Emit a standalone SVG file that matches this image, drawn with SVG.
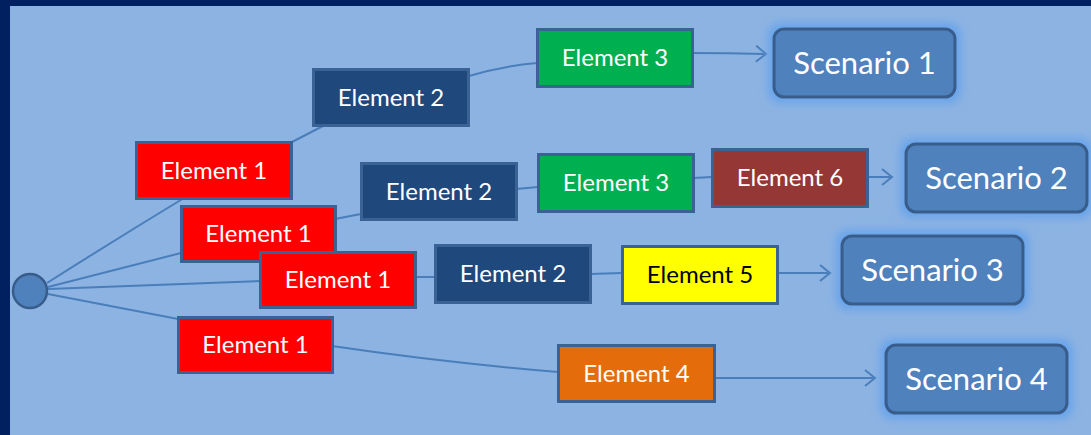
<svg xmlns="http://www.w3.org/2000/svg" width="1091" height="435" viewBox="0 0 1091 435">
  <style>
    .el { stroke: #3B6294; stroke-width: 3; }
    .sc { fill: #4F81BD; stroke: #385D8A; stroke-width: 3; }
    .t { font-family: Lato, "Open Sans", sans-serif; font-size: 24px; fill: #FFFFFF; text-anchor: middle; }
    .ts { font-family: Lato, "Open Sans", sans-serif; font-size: 31px; fill: #FFFFFF; text-anchor: middle; }
    .link { fill: none; stroke: #4A7EBB; stroke-width: 2; }
  </style>
  <defs>
    <marker id="arrow" markerUnits="userSpaceOnUse" markerWidth="14" markerHeight="20" refX="11" refY="9" orient="auto">
      <path d="M1,1 L11,9 L1,17" fill="none" stroke="#4A7EBB" stroke-width="2"/>
    </marker>
    <filter id="glow" x="-25%" y="-50%" width="150%" height="200%">
      <feMorphology in="SourceAlpha" operator="dilate" radius="4" result="d"/>
      <feGaussianBlur in="d" stdDeviation="5" result="b"/>
      <feFlood flood-color="#64A2EC" flood-opacity="1"/>
      <feComposite in2="b" operator="in" result="g"/>
      <feMerge>
        <feMergeNode in="g"/>
        <feMergeNode in="SourceGraphic"/>
      </feMerge>
    </filter>
  </defs>

  <!-- frame and canvas -->
  <rect x="0" y="0" width="1091" height="435" fill="#002060"/>
  <rect x="10" y="6" width="1081" height="429" fill="#8DB3E2"/>

  <!-- connectors -->
  <g id="connectors">
    <path class="link" d="M47,283 Q118,238 184,198"/>
    <path class="link" d="M292,142 L323,126"/>
    <path class="link" d="M469,76 Q502,66 537,63"/>
    <path class="link" d="M692,53 Q730,53 766,54" marker-end="url(#arrow)"/>

    <path class="link" d="M48,287 L181,253"/>
    <path class="link" d="M335,219 L361,214"/>
    <path class="link" d="M516,189 L538,187"/>
    <path class="link" d="M693,178 L712,177"/>
    <path class="link" d="M867,177 L892,177" marker-end="url(#arrow)"/>

    <path class="link" d="M48,289 L260,281"/>
    <path class="link" d="M415,277 L435,277"/>
    <path class="link" d="M590,274 L622,273"/>
    <path class="link" d="M777,273 L830,273" marker-end="url(#arrow)"/>

    <path class="link" d="M48,294 L178,319"/>
    <path class="link" d="M332,346 Q440,362 558,372"/>
    <path class="link" d="M714,378 L875,378" marker-end="url(#arrow)"/>
  </g>

  <!-- start point -->
  <g id="start">
    <circle cx="30" cy="291" r="17" fill="#4F81BD" stroke="#385D8A" stroke-width="2.5"/>
  </g>

  <!-- path 1 -->
  <g id="e1-a">
    <rect class="el" x="136.5" y="142.5" width="155" height="56" fill="#FF0000"/>
    <text class="t" x="214" y="178.5">Element 1</text>
  </g>
  <g id="e2-a">
    <rect class="el" x="313.5" y="69.5" width="155" height="56" fill="#1F497D"/>
    <text class="t" x="391" y="105.5">Element 2</text>
  </g>
  <g id="e3-a">
    <rect class="el" x="537.5" y="29.5" width="155" height="57" fill="#00B050"/>
    <text class="t" x="615" y="66">Element 3</text>
  </g>
  <g id="scenario-1">
    <rect class="sc" x="774" y="29" width="181" height="68" rx="10" filter="url(#glow)"/>
    <text class="ts" x="864.5" y="74">Scenario 1</text>
  </g>

  <!-- path 2 -->
  <g id="e1-b">
    <rect class="el" x="181.5" y="206.5" width="154" height="55" fill="#FF0000"/>
    <text class="t" x="258.5" y="242">Element 1</text>
  </g>
  <g id="e2-b">
    <rect class="el" x="361.5" y="163.5" width="155" height="56" fill="#1F497D"/>
    <text class="t" x="439" y="199.5">Element 2</text>
  </g>
  <g id="e3-b">
    <rect class="el" x="538.5" y="154.5" width="155" height="57" fill="#00B050"/>
    <text class="t" x="616" y="191">Element 3</text>
  </g>
  <g id="e6-b">
    <rect class="el" x="712.5" y="149.5" width="155" height="57" fill="#953735"/>
    <text class="t" x="790" y="186">Element 6</text>
  </g>
  <g id="scenario-2">
    <rect class="sc" x="906" y="144" width="181" height="68" rx="10" filter="url(#glow)"/>
    <text class="ts" x="996.5" y="189">Scenario 2</text>
  </g>

  <!-- path 3 -->
  <g id="e1-c">
    <rect class="el" x="260.5" y="252.5" width="155" height="55" fill="#FF0000"/>
    <text class="t" x="338" y="288">Element 1</text>
  </g>
  <g id="e2-c">
    <rect class="el" x="435.5" y="245.5" width="155" height="57" fill="#1F497D"/>
    <text class="t" x="513" y="282">Element 2</text>
  </g>
  <g id="e5-c">
    <rect class="el" x="622.5" y="246.5" width="155" height="57" fill="#FFFF00"/>
    <text class="t" x="700" y="283" style="fill:#000000">Element 5</text>
  </g>
  <g id="scenario-3">
    <rect class="sc" x="842" y="236" width="181" height="68" rx="10" filter="url(#glow)"/>
    <text class="ts" x="932.5" y="281">Scenario 3</text>
  </g>

  <!-- path 4 -->
  <g id="e1-d">
    <rect class="el" x="178.5" y="317.5" width="154" height="55" fill="#FF0000"/>
    <text class="t" x="255.5" y="353">Element 1</text>
  </g>
  <g id="e4-d">
    <rect class="el" x="558.5" y="345.5" width="156" height="56" fill="#E46C0A"/>
    <text class="t" x="636.5" y="381.5">Element 4</text>
  </g>
  <g id="scenario-4">
    <rect class="sc" x="886" y="345" width="181" height="68" rx="10" filter="url(#glow)"/>
    <text class="ts" x="976.5" y="390">Scenario 4</text>
  </g>
</svg>
